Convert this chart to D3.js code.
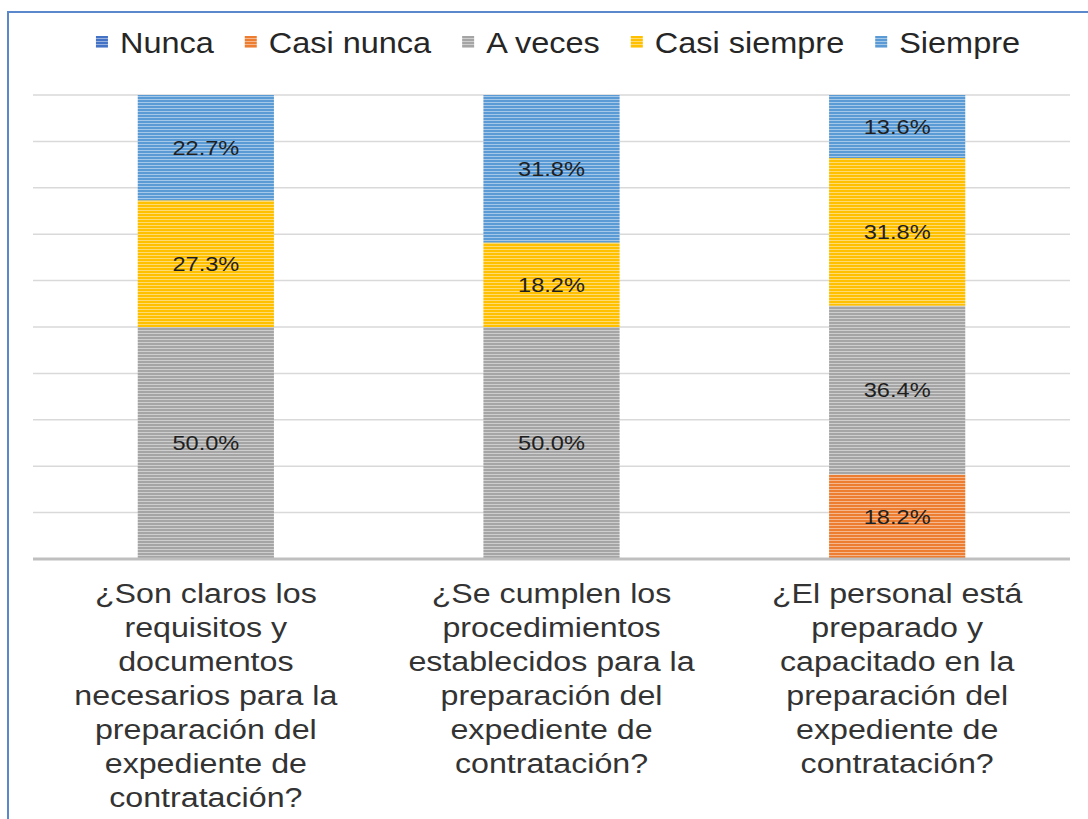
<!DOCTYPE html>
<html>
<head>
<meta charset="utf-8">
<script src="https://cdn.jsdelivr.net/npm/d3@7"></script>
<style>
  html, body { margin: 0; padding: 0; background: #fff; }
  svg { display: block; font-family: "Liberation Sans", Arial, sans-serif; }
</style>
</head>
<body>
<div id="chart-area"></div>
<script>
// Data
const categories = ["c1", "c2", "c3"]
const categoryLines = [
  ["¿Son claros los", "requisitos y", "documentos", "necesarios para la", "preparación del", "expediente de", "contratación?"],
  ["¿Se cumplen los", "procedimientos", "establecidos para la", "preparación del", "expediente de", "contratación?"],
  ["¿El personal está", "preparado y", "capacitado en la", "preparación del", "expediente de", "contratación?"]
]
const seriesNames = ["Nunca", "Casi nunca", "A veces", "Casi siempre", "Siempre"]
const nunca = [0, 0, 0]
const casiNunca = [0, 0, 18.2]
const aVeces = [50.0, 50.0, 36.4]
const casiSiempre = [27.3, 18.2, 31.8]
const siempre = [22.7, 31.8, 13.6]
const yTicks = [0, 10, 20, 30, 40, 50, 60, 70, 80, 90, 100]

const colors = ["#4472C4", "#ED7D31", "#A5A5A5", "#FFC000", "#5B9BD5"]
const seriesValues = [nunca, casiNunca, aVeces, casiSiempre, siempre]

const W = 1088, H = 819
const PLOT = { LEFT: 33, RIGHT: 1070, TOP: 95, BOTTOM: 559 }
const SX = 1.15 // source image text is stretched horizontally

const svg = d3.select("#chart-area").append("svg")
  .attr("width", W)
  .attr("height", H)

// striped fills
const defs = svg.append("defs")
colors.forEach((c, i) => {
  const p = defs.append("pattern")
    .attr("id", "pat" + i)
    .attr("patternUnits", "userSpaceOnUse")
    .attr("width", 6).attr("height", 3)
  p.append("rect").attr("width", 6).attr("height", 3).attr("fill", c)
  p.append("rect").attr("width", 6).attr("height", 1)
    .attr("fill", d3.interpolateRgb(c, "#fff")(0.45))
})

// chart border
svg.append("rect")
  .attr("x", 8).attr("y", 12)
  .attr("width", W + 20).attr("height", H + 20)
  .attr("fill", "#fff")
  .attr("stroke", "#5B87CC")
  .attr("stroke-width", 2)

// table for stack
const table = categories.map((c, j) => {
  const row = { cat: c }
  seriesNames.forEach((s, i) => { row[s] = seriesValues[i][j] })
  return row
})
const stacked = d3.stack().keys(seriesNames)(table)

const x = d3.scaleBand()
  .domain(categories)
  .range([PLOT.LEFT, PLOT.RIGHT])
  .paddingInner(0.606)
  .paddingOuter(0.303)

const y = d3.scaleLinear()
  .domain([0, 100])
  .range([PLOT.BOTTOM, PLOT.TOP])

// gridlines
svg.append("g")
  .selectAll("line")
  .data(yTicks.filter(t => t > 0))
  .enter().append("line")
  .attr("x1", PLOT.LEFT).attr("x2", PLOT.RIGHT)
  .attr("y1", d => y(d)).attr("y2", d => y(d))
  .attr("stroke", "#d9d9d9")
  .attr("stroke-width", 1.5)

// bars
const layers = svg.append("g")
  .selectAll("g")
  .data(stacked)
  .enter().append("g")
  .attr("fill", (d, i) => `url(#pat${i})`)

layers.selectAll("rect")
  .data(d => d.map(v => Object.assign(v, { key: d.key })))
  .enter().append("rect")
  .attr("x", d => x(d.data.cat))
  .attr("width", x.bandwidth())
  .attr("y", d => y(d[1]))
  .attr("height", d => y(d[0]) - y(d[1]))

// data labels
layers.selectAll("text")
  .data(d => d.filter(v => v[1] - v[0] > 0))
  .enter().append("text")
  .attr("transform", d => `translate(${x(d.data.cat) + x.bandwidth() / 2},${(y(d[0]) + y(d[1])) / 2 + 7}) scale(1.18,1)`)
  .attr("text-anchor", "middle")
  .attr("font-size", "20px")
  .attr("fill", "#1f1f1f")
  .text(d => (d[1] - d[0]).toFixed(1) + "%")

// x axis baseline
svg.append("line")
  .attr("x1", PLOT.LEFT).attr("x2", PLOT.RIGHT)
  .attr("y1", PLOT.BOTTOM).attr("y2", PLOT.BOTTOM)
  .attr("stroke", "#bfbfbf")
  .attr("stroke-width", 3)

// category labels
const catG = svg.append("g")
categories.forEach((c, j) => {
  categoryLines[j].forEach((line, k) => {
    catG.append("text")
      .attr("transform", `translate(${x(c) + x.bandwidth() / 2},${603 + k * 34}) scale(${SX},1)`)
      .attr("text-anchor", "middle")
      .attr("font-size", "28px")
      .attr("fill", "#333")
      .text(line)
  })
})

// legend
const legend = svg.append("g")
const items = seriesNames.map((s, i) => {
  const g = legend.append("g")
  g.append("rect")
    .attr("x", 0).attr("y", -17)
    .attr("width", 12).attr("height", 12)
    .attr("fill", `url(#pat${i})`)
  const t = g.append("text")
    .attr("transform", `translate(24,0) scale(1.12,1)`)
    .attr("font-size", "29px")
    .attr("fill", "#262626")
    .text(s)
  const w = 24 + t.node().getComputedTextLength() * 1.12
  return { g, w }
})
const gap = 31
const total = d3.sum(items, d => d.w) + gap * (items.length - 1)
let cx = 558 - total / 2
items.forEach(it => {
  it.g.attr("transform", `translate(${cx},53)`)
  cx += it.w + gap
})
</script>
</body>
</html>
